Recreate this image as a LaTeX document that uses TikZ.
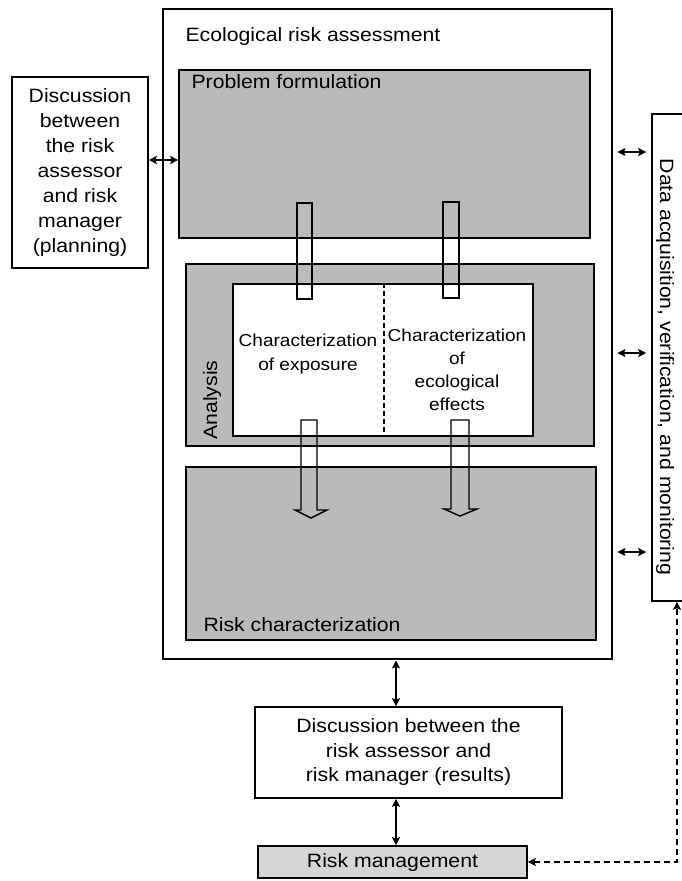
\documentclass[tikz,border=0pt]{standalone}
\usepackage{fontspec}
\setmainfont[FakeStretch=1.1]{Liberation Sans}
\usetikzlibrary{arrows.meta}
\definecolor{panelgray}{RGB}{186,186,186}
\definecolor{mgmtgray}{RGB}{214,214,214}
\begin{document}
\begin{tikzpicture}[x=1pt,y=-1pt,
  lbl/.style={font=\fontsize{19.3}{25}\selectfont},
  smalllbl/.style={font=\fontsize{17.3}{23.2}\selectfont},
  box/.style={draw, line width=1.6pt, inner sep=0pt, rectangle},
  panel/.style={box, fill=panelgray},
  bar/.style={draw, line width=1.4pt},
  head/.style={Stealth[length=8pt,width=8pt,inset=1.5pt]},
  dbl/.style={line width=1.3pt, {Stealth[length=8pt,width=8pt,inset=1.5pt]}-{Stealth[length=8pt,width=8pt,inset=1.5pt]}},
  dashlink/.style={line width=1.2pt, dash pattern=on 6pt off 4pt}
]
\useasboundingbox (0,0) rectangle (682,881);
\clip (0,0) rectangle (682,881);

% main frame and its three stages
\node[box, line width=2.8pt, minimum width=449pt, minimum height=650pt] (era) at (387.5,334) {};
\node[panel, minimum width=411pt, minimum height=168pt] (pf) at (384.5,154) {};
\node[panel, minimum width=408pt, minimum height=182pt] (an) at (390,355) {};
\node[box, fill=white, minimum width=300pt, minimum height=152pt] (anin) at (383,360) {};
\node[panel, minimum width=410pt, minimum height=173pt] (rc) at (391,553.5) {};

\node[lbl, anchor=base west] (eratitle) at (182,41) {Ecological risk assessment};
\node[lbl, anchor=base west] (pftitle) at (188,88) {Problem formulation};
\node[lbl, anchor=base west] (rctitle) at (200,631) {Risk characterization};
\node[lbl, rotate=90, anchor=base] (antitle) at (217,400) {Analysis};

% split of the analysis box
\draw[line width=1.3pt, dash pattern=on 5pt off 3pt] (anin.north -| 384,0) -- (anin.south -| 384,0);
\node[smalllbl, align=center] (expo) at (308,354) {Characterization\\of exposure};
\node[smalllbl, align=center] (effe) at (457,370) {Characterization\\of\\ecological\\effects};

% open bars from problem formulation into analysis
\node[bar, inner sep=0pt, minimum width=15pt, minimum height=96pt] (barA) at (304.5,251) {};
\node[bar, inner sep=0pt, minimum width=16pt, minimum height=96pt] (barB) at (451,250) {};

% open arrows from analysis into risk characterization
\draw[bar, line join=miter] (301,420) -- (301,510) -- (295,510) -- (311,518) -- (327,510) -- (317,510) -- (317,420) -- cycle;
\draw[bar, line join=miter] (451,420) -- (451,509) -- (444,509) -- (460,516) -- (477,509) -- (469,509) -- (469,420) -- cycle;

% side boxes
\node[box, lbl, align=center, minimum width=136pt, minimum height=191pt] (plan) at (80,172.5)
  {Discussion\\between\\the risk\\assessor\\and risk\\manager\\(planning)};
\node[box, minimum width=50pt, minimum height=487pt] (data) at (677,357.5) {};
\node[lbl, rotate=-90, anchor=base] (datatext) at (660,367) {Data acquisition, verification, and monitoring};

% boxes below the frame
\node[box, lbl, align=center, minimum width=307pt, minimum height=91pt, font=\fontsize{19.3}{24.5}\selectfont] (res) at (408.5,752.5)
  {Discussion between the\\risk assessor and\\risk manager (results)};
\node[box, lbl, fill=mgmtgray, minimum width=269pt, minimum height=32pt] (rm) at (392.5,862) {Risk management};

% connectors
\draw[dbl] (plan.east |- 0,160) -- (pf.west |- 0,160);
\draw[dbl, shorten <=4pt, shorten >=5pt] (era.east |- 0,152) -- (data.west |- 0,152);
\draw[dbl, shorten <=4pt, shorten >=5pt] (era.east |- 0,353) -- (data.west |- 0,353);
\draw[dbl, shorten <=4pt, shorten >=5pt] (era.east |- 0,552) -- (data.west |- 0,552);
\draw[dbl] (era.south -| 396,0) -- (res.north -| 396,0);
\draw[dbl] (res.south -| 396,0) -- (rm.north -| 396,0);
\draw[dashlink, {Stealth[length=8pt,width=8pt,inset=1.5pt]}-{Stealth[length=8pt,width=8pt,inset=1.5pt]}] (rm.east) -| (data.south);
\end{tikzpicture}
\end{document}
